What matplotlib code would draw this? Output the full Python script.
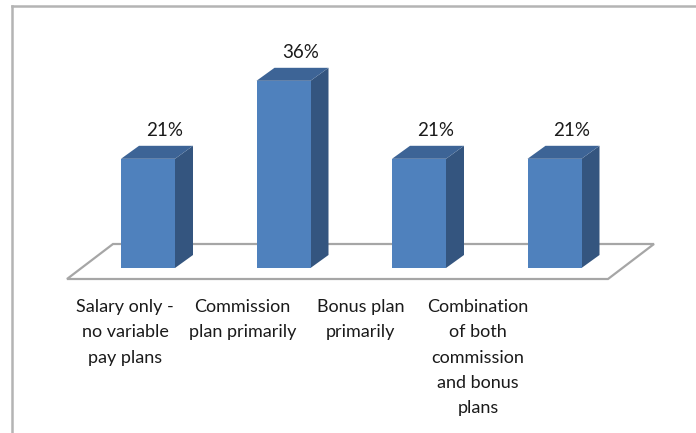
import matplotlib
matplotlib.use("Agg")
import matplotlib.pyplot as plt
from matplotlib.patches import Polygon
from matplotlib.lines import Line2D

# Survey results: primary form of sales compensation
categories = [
    "Salary only -\nno variable\npay plans",
    "Commission\nplan primarily",
    "Bonus plan\nprimarily",
    "Combination\nof both\ncommission\nand bonus\nplans",
]
values = [21, 36, 21, 21]
value_labels = ["21%", "36%", "21%", "21%"]

W, H, DPI = 696, 433, 100
fig = plt.figure(figsize=(W / DPI, H / DPI), dpi=DPI)
fig.patch.set_facecolor("white")

# plot area in pixels
PX_PER_CAT = 135.5
PX_PER_PCT = 5.2
LEFT_PX = 148 - 0.5 * PX_PER_CAT
BASE_PX = 433 - 268
YMAX = 40
ax = fig.add_axes([LEFT_PX / W, BASE_PX / H, 4 * PX_PER_CAT / W, YMAX * PX_PER_PCT / H])
ax.set_xlim(-0.5, 3.5)
ax.set_ylim(0, YMAX)
ax.axis("off")

def px_x(p):
    return p / PX_PER_CAT

def px_y(p):
    return p / PX_PER_PCT

FRONT = "#4F81BD"
SIDE = "#34557F"
TOP = "#3D6496"
FLOOR = "#A6A6A6"

# floor plane
floor_front_y = px_y(-11)
floor_back_y = px_y(24)
floor_left = px_x(67 - 148)
floor_right = px_x(608 - 148)
floor_dx = px_x(46)
floor = Polygon(
    [
        (floor_left, floor_front_y),
        (floor_right, floor_front_y),
        (floor_right + floor_dx, floor_back_y),
        (floor_left + floor_dx, floor_back_y),
    ],
    closed=True, facecolor="white", edgecolor=FLOOR, linewidth=1.6,
    clip_on=False, zorder=1,
)
ax.add_patch(floor)

# 3-D bars: front face + side + top
bw = px_x(54)
ddx = px_x(18)
ddy = px_y(13)
for i, v in enumerate(values):
    x0 = i - bw / 2
    x1 = i + bw / 2
    ax.add_patch(Polygon([(x1, 0), (x1 + ddx, ddy), (x1 + ddx, v + ddy), (x1, v)],
                         closed=True, facecolor=SIDE, edgecolor="none",
                         clip_on=False, zorder=3))
    ax.add_patch(Polygon([(x0, v), (x1, v), (x1 + ddx, v + ddy), (x0 + ddx, v + ddy)],
                         closed=True, facecolor=TOP, edgecolor="none",
                         clip_on=False, zorder=3))
    ax.bar(i, v, width=bw, color=FRONT, edgecolor="none", zorder=4, clip_on=False)
    ax.text(i + px_x(17), v + ddy + px_y(15), value_labels[i],
            ha="center", va="center", fontsize=13.5, family="Lato",
            color="#1a1a1a", clip_on=False, zorder=5)

# category labels along the front of the floor
label_x0 = px_x(125 - 148)
label_step = px_x(117.7)
for i, lab in enumerate(categories):
    ax.text(label_x0 + i * label_step, px_y(-31), lab,
            ha="center", va="top", fontsize=13, family="Lato",
            color="#1a1a1a", linespacing=1.72, clip_on=False)

# chart frame
fig.add_artist(Line2D([12 / W, 12 / W], [0, 1 - 6 / H], transform=fig.transFigure,
                      color="#B4B4B4", linewidth=1.8))
fig.add_artist(Line2D([12 / W, 1], [1 - 6 / H, 1 - 6 / H], transform=fig.transFigure,
                      color="#B4B4B4", linewidth=1.8))

fig.savefig("out.png", dpi=DPI, facecolor="white")
